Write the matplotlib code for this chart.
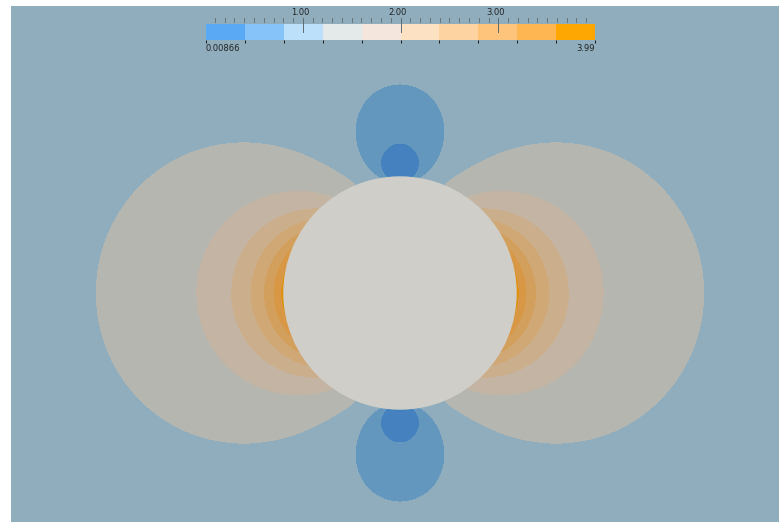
import numpy as np
import matplotlib
matplotlib.use("Agg")
import matplotlib.pyplot as plt
from matplotlib.colors import ListedColormap, BoundaryNorm
from matplotlib.patches import Circle
import matplotlib.colorbar as mcolorbar

# range of the scalar (speed squared) and number of bands
vmin = 0.00866
vmax = 3.99
n_bands = 10
major_ticks = [1.0, 2.0, 3.0]
major_labels = ["1.00", "2.00", "3.00"]

# band colours as rendered in the view and as shown in the scalar bar
fill_colors = ['#4481be', '#6497be', '#8fadbd', '#b6b6b0', '#c3b4a3',
               '#cbaf8d', '#cfa875', '#d39f5d', '#d89745', '#de9214']
bar_colors = ['#5aa9f5', '#86c3f8', '#bde0fa', '#e4e9ea', '#f4e6dc',
              '#fde1c3', '#fed3a2', '#fec47c', '#feb652', '#fea602']
background = '#8fadbd'
body_color = '#d0cec8'

# cylinder and shape parameters (radius units)
cyl_r = 1.0
side_a = 0.9655
side_p = 2.7
stag_y0 = 0.95
stag_q = 1.97
stag_k = 5.66

levels = np.linspace(vmin, vmax, n_bands + 1)

# view extent around the cylinder centre
x0, x1 = -3.353, 3.267
y0, y1 = -1.974, 2.474

x = np.linspace(x0, x1, 1401)
y = np.linspace(y0, y1, 951)
X, Y = np.meshgrid(x, y)
r2 = X**2 + Y**2

# speed squared: rise on the flanks, drop to zero at the stagnation points
ts = side_a * np.abs(X) / r2
S = 3.0 * ts**side_p
dy = np.abs(Y) - stag_y0
tb = np.where(dy > 0, dy / (dy**2 + X**2 + 1e-12), 0.0)
G = tb**stag_q / (stag_k + tb**stag_q)
V = np.clip(1.0 + S - G, vmin, vmax)
V = np.ma.masked_where(r2 < 0.9 * cyl_r**2, V)

fig = plt.figure(figsize=(7.79, 5.22), dpi=100)
ax = fig.add_axes([11 / 779, 0, 768 / 779, 516 / 522])
ax.set_facecolor(background)
# drawn twice so the antialiased band edges don't leave light seams
for _ in range(2):
    ax.contourf(X, Y, V, levels=levels, colors=fill_colors)
ax.add_patch(Circle((0, 0), cyl_r, color=body_color, zorder=3))
ax.set_xlim(x0, x1)
ax.set_ylim(y0, y1)
ax.set_aspect('equal')
ax.axis('off')

# scalar bar across the top
cax = fig.add_axes([206 / 779, 1 - 40 / 522, 389 / 779, 15.7 / 522])
cmap = ListedColormap(bar_colors)
norm = BoundaryNorm(levels, n_bands)
cb = mcolorbar.ColorbarBase(cax, cmap=cmap, norm=norm, orientation='horizontal',
                            boundaries=levels)
cb.outline.set_visible(False)
cax.set_xticks([])
cax.set_yticks([])
cax.set_xlim(vmin, vmax)
cax.set_ylim(0, 1)

tick_col = '#5f6b70'
for t in np.arange(0.1, 4.0, 0.1):
    if min(abs(t - m) for m in major_ticks) < 1e-6:
        continue
    cax.plot([t, t], [1.13, 1.42], color=tick_col, lw=0.6, clip_on=False)
for t, lab in zip(major_ticks, major_labels):
    cax.plot([t, t], [1.42, 0.5], color=tick_col, lw=0.7, clip_on=False)
    cax.text(t - 0.03, 1.45, lab, ha='center', va='bottom', fontsize=6, color='#222222')
cax.text(vmin, -0.25, "0.00866", ha='left', va='top', fontsize=6, color='#222222')
cax.text(vmax, -0.25, "3.99", ha='right', va='top', fontsize=6, color='#222222')

fig.savefig("out.png", dpi=100)
